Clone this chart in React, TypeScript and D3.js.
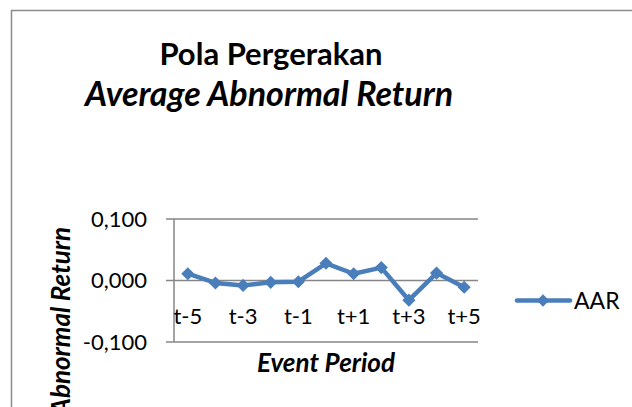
import { useRef, useEffect } from "react";
import * as d3 from "d3";

const periods = ["t-5", "t-4", "t-3", "t-2", "t-1", "t0", "t+1", "t+2", "t+3", "t+4", "t+5"];
const shownLabels = ["t-5", "t-3", "t-1", "t+1", "t+3", "t+5"];
const aar = [0.011, -0.004, -0.008, -0.003, -0.002, 0.028, 0.011, 0.021, -0.032, 0.012, -0.011];
const yTicks = [-0.1, 0, 0.1];

const FONT = "Lato, 'Open Sans', sans-serif";
const BLUE = "#4a7ebb";
const GRID = "#868686";

export default function App() {
  const ref = useRef<SVGSVGElement>(null);

  useEffect(() => {
    if (!ref.current) return;
    const svg = d3.select(ref.current);
    svg.selectAll("*").remove();

    // chart frame
    svg.append("rect").attr("x", 11.5).attr("y", 10.5).attr("width", 700).attr("height", 500)
      .attr("fill", "#fff").attr("stroke", "#8c8c8c").attr("stroke-width", 1.5);

    // title
    const title = svg.append("text").attr("text-anchor", "middle").attr("font-family", FONT)
      .attr("font-weight", "bold").attr("fill", "#000");
    title.append("tspan").attr("x", 271).attr("y", 65).attr("font-size", 31).text("Pola Pergerakan");
    title.append("tspan").attr("x", 269).attr("y", 106).attr("font-size", 34)
      .attr("font-style", "italic").text("Average Abnormal Return");

    const m = { left: 174, right: 478, top: 219, bottom: 342 };
    const x = d3.scaleBand().domain(periods).range([m.left, m.right]);
    const y = d3.scaleLinear().domain([-0.1, 0.1]).range([m.bottom, m.top]);
    const cx = (d: string) => x(d)! + x.bandwidth() / 2;

    // gridlines + ticks
    svg.append("g").selectAll("line").data(yTicks).join("line")
      .attr("x1", m.left - 8).attr("x2", m.right)
      .attr("y1", d => y(d)).attr("y2", d => y(d))
      .attr("stroke", GRID).attr("stroke-width", 1.5);
    svg.append("line").attr("x1", m.left).attr("x2", m.left).attr("y1", m.top).attr("y2", m.bottom)
      .attr("stroke", GRID).attr("stroke-width", 1.5);

    const fmt = (v: number) => d3.format(".3f")(v).replace(".", ",").replace("−", "-");
    svg.append("g").selectAll("text").data(yTicks).join("text")
      .attr("x", m.left - 27).attr("y", d => y(d)).attr("dy", "0.36em")
      .attr("text-anchor", "end").attr("font-family", FONT).attr("font-size", 22).attr("fill", "#000")
      .text(d => fmt(d));

    svg.append("g").selectAll("text").data(shownLabels).join("text")
      .attr("x", d => cx(d)).attr("y", y(0) + 43)
      .attr("text-anchor", "middle").attr("font-family", FONT).attr("font-size", 22).attr("fill", "#000")
      .text(d => d);

    // axis titles
    svg.append("text").attr("x", (m.left + m.right) / 2).attr("y", 372)
      .attr("text-anchor", "middle").attr("font-family", FONT).attr("font-size", 26)
      .attr("font-weight", "bold").attr("font-style", "italic").text("Event Period");
    svg.append("text").attr("transform", "translate(70,227) rotate(-90)")
      .attr("text-anchor", "end").attr("font-family", FONT).attr("font-size", 26)
      .attr("font-weight", "bold").attr("font-style", "italic").text("Abnormal Return");

    // series
    const line = d3.line<number>().x((_, i) => cx(periods[i])).y(d => y(d));
    svg.append("path").datum(aar).attr("d", line).attr("fill", "none")
      .attr("stroke", BLUE).attr("stroke-width", 4.5).attr("stroke-linejoin", "round");
    const diamond = d3.symbol(d3.symbolDiamond2, 110)();
    svg.append("g").selectAll("path").data(aar).join("path")
      .attr("d", diamond)
      .attr("transform", (d, i) => `translate(${cx(periods[i])},${y(d)})`)
      .attr("fill", BLUE);

    // legend
    const lg = svg.append("g");
    lg.append("line").attr("x1", 517).attr("x2", 570).attr("y1", 300.5).attr("y2", 300.5)
      .attr("stroke", BLUE).attr("stroke-width", 4.5).attr("stroke-linecap", "round");
    lg.append("path").attr("d", d3.symbol(d3.symbolDiamond2, 100)())
      .attr("transform", "translate(543,300.5)").attr("fill", BLUE);
    lg.append("text").attr("x", 574).attr("y", 308.5).attr("font-family", FONT).attr("font-size", 23)
      .attr("fill", "#000").text("AAR");
  }, []);

  return (
    <svg ref={ref} width={632} height={407}
      style={{ position: "absolute", left: 0, top: 0, background: "#fff" }} />
  );
}
